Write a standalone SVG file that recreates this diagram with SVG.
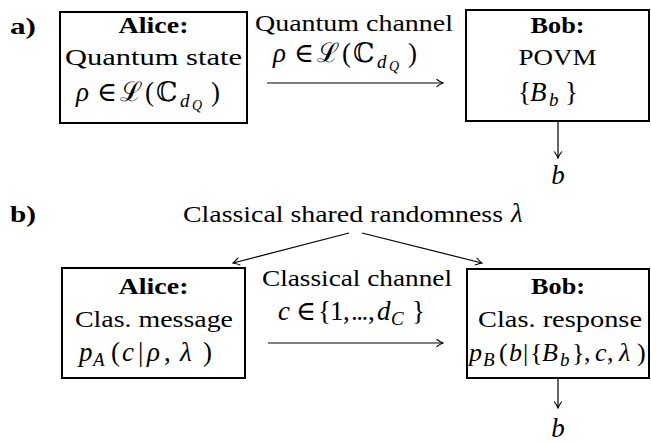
<svg xmlns="http://www.w3.org/2000/svg" width="651" height="443" viewBox="0 0 651 443">
<style>
text{font-family:"Liberation Serif","DejaVu Serif",serif;font-size:23px;fill:#000}
.c{text-anchor:middle}
.b{font-weight:bold}
.i{font-style:italic}
.m{font-size:27px}
.s{font-size:19px}
.ss{font-size:14px}
.box{fill:#fff;stroke:#000;stroke-width:2}
.ln{fill:none;stroke:#000;stroke-width:1.2;marker-end:url(#ah)}
</style>
<defs>
<marker id="ah" viewBox="-8 -5 9 10" markerWidth="9" markerHeight="10" refX="0" refY="0" orient="auto" markerUnits="userSpaceOnUse">
<path d="M-6.5,-3.8 Q-2.5,-0.9 0,0 Q-2.5,0.9 -6.5,3.8" fill="none" stroke="#000" stroke-width="1.1"/>
</marker>
</defs>
<g id="label-a"><text class="b" x="10" y="34" textLength="26" lengthAdjust="spacingAndGlyphs">a)</text></g>
<g id="label-b"><text class="b" x="10" y="222" textLength="26" lengthAdjust="spacingAndGlyphs">b)</text></g>
<g id="alice-a">
<rect class="box" x="60" y="12" width="187" height="111"/>
<text class="b c" x="153.5" y="33" textLength="70" lengthAdjust="spacingAndGlyphs">Alice:</text>
<text class="c" x="153.5" y="65" textLength="177" lengthAdjust="spacingAndGlyphs">Quantum state</text>
<text class="m"><tspan class="i" x="76" y="101">ρ</tspan><tspan x="97" y="101">∈</tspan><tspan x="120" y="101">ℒ</tspan><tspan x="145" y="101">(</tspan><tspan x="156" y="101">ℂ</tspan><tspan class="i s" x="180" y="107">d</tspan><tspan class="i ss" x="192" y="110">Q</tspan><tspan x="211" y="101">)</tspan></text>
</g>
<g id="bob-a">
<rect class="box" x="466" y="10" width="183" height="111"/>
<text class="b c" x="557.5" y="33" textLength="54" lengthAdjust="spacingAndGlyphs">Bob:</text>
<text class="c" x="557.5" y="65" textLength="78" lengthAdjust="spacingAndGlyphs">POVM</text>
<text class="m"><tspan x="518" y="101">{</tspan><tspan class="i" x="530" y="101">B</tspan><tspan class="i s" x="549" y="106">b</tspan><tspan x="565" y="101">}</tspan></text>
</g>
<g id="channel-a">
<text class="c" x="354" y="31" textLength="198" lengthAdjust="spacingAndGlyphs">Quantum channel</text>
<text class="m"><tspan class="i" x="273" y="62">ρ</tspan><tspan x="294" y="62">∈</tspan><tspan x="317" y="62">ℒ</tspan><tspan x="342" y="62">(</tspan><tspan x="353" y="62">ℂ</tspan><tspan class="i s" x="377" y="68">d</tspan><tspan class="i ss" x="389" y="71">Q</tspan><tspan x="408" y="62">)</tspan></text>
</g>
<g id="out-a"><text class="i m c" x="558" y="184">b</text></g>
<g id="shared">
<text x="183" y="222" textLength="320" lengthAdjust="spacingAndGlyphs">Classical shared randomness</text>
<text class="i m" x="511" y="222">λ</text>
</g>
<g id="alice-b">
<rect class="box" x="62" y="268" width="183" height="110"/>
<text class="b c" x="153.5" y="294" textLength="70" lengthAdjust="spacingAndGlyphs">Alice:</text>
<text class="c" x="154" y="327" textLength="158" lengthAdjust="spacingAndGlyphs">Clas. message</text>
<text class="m"><tspan class="i" x="79" y="361">p</tspan><tspan class="i s" x="93" y="366">A</tspan><tspan x="111" y="361">(</tspan><tspan class="i" x="122" y="361">c</tspan><tspan x="138" y="361">|</tspan><tspan class="i" x="147" y="361">ρ</tspan><tspan x="164" y="361">,</tspan><tspan class="i" x="180" y="361">λ</tspan><tspan x="203" y="361">)</tspan></text>
</g>
<g id="bob-b">
<rect class="box" x="467" y="269" width="182" height="109"/>
<text class="b c" x="558" y="294" textLength="54" lengthAdjust="spacingAndGlyphs">Bob:</text>
<text class="c" x="560" y="327" textLength="164" lengthAdjust="spacingAndGlyphs">Clas. response</text>
<text class="m" style="font-size:26px"><tspan class="i" x="469" y="361">p</tspan><tspan class="i s" x="483" y="366">B</tspan><tspan x="499" y="361">(</tspan><tspan class="i" x="509" y="361">b</tspan><tspan x="523" y="361">|</tspan><tspan x="530" y="361">{</tspan><tspan class="i" x="542" y="361">B</tspan><tspan class="i s" x="560" y="366">b</tspan><tspan x="572" y="361">}</tspan><tspan x="584" y="361">,</tspan><tspan class="i" x="595" y="361">c</tspan><tspan x="607" y="361">,</tspan><tspan class="i" x="619" y="361">λ</tspan><tspan x="637" y="361">)</tspan></text>
</g>
<g id="channel-b">
<text class="c" x="357" y="286" textLength="190" lengthAdjust="spacingAndGlyphs">Classical channel</text>
<text class="m"><tspan class="i" x="278" y="320">c</tspan><tspan x="296" y="320">∈</tspan><tspan x="318" y="320">{</tspan><tspan x="330" y="320">1</tspan><tspan x="343" y="320">,</tspan><tspan x="351" y="320" letter-spacing="-1.5">...</tspan><tspan x="368" y="320">,</tspan><tspan class="i" x="377" y="320">d</tspan><tspan class="i s" x="391" y="325">C</tspan><tspan x="412" y="320">}</tspan></text>
</g>
<g id="out-b"><text class="i m c" x="558" y="437">b</text></g>
<g id="connectors">
<line class="ln" x1="267" y1="83" x2="443" y2="83"/>
<line class="ln" x1="558" y1="122" x2="558" y2="158"/>
<line class="ln" x1="349" y1="233" x2="233" y2="263"/>
<line class="ln" x1="362" y1="233" x2="482" y2="263"/>
<line class="ln" x1="268" y1="343" x2="443" y2="343"/>
<line class="ln" x1="558" y1="379" x2="558" y2="408"/>
</g>
</svg>
